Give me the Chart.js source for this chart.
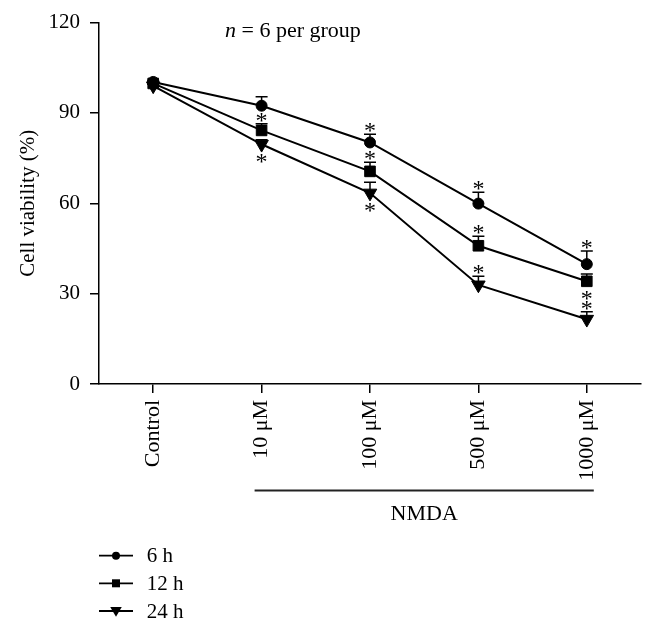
<!DOCTYPE html>
<html><head><meta charset="utf-8">
<script src="https://cdn.jsdelivr.net/npm/chart.js@4.4.1/dist/chart.umd.min.js"></script>
<style>html,body{margin:0;padding:0;background:#fff;}#wrap{width:654px;height:633px;}</style>
</head><body><div id="wrap"><canvas id="c" width="654" height="633"></canvas></div>
<script>
// ---- data ----
const categories = ['Control', '10 μM', '100 μM', '500 μM', '1000 μM'];
const groupLabel = 'NMDA';
const seriesNames = ['6 h', '12 h', '24 h'];
const v6  = [100.3, 92.4, 80.2, 59.9, 39.8];
const v12 = [99.8, 84.2, 70.6, 45.9, 34.1];
const v24 = [99.0, 79.6, 63.4, 32.9, 21.5];
const e6  = [0.5, 3.0, 2.7, 3.8, 4.4];
const e12 = [0.5, 2.2, 3.0, 3.2, 2.4];
const e24 = [0.5, 1.5, 3.6, 2.9, 2.5];
const sig6  = [false, false, true, true, true];
const sig12 = [false, true, true, true, true];
const sig24 = [false, true, true, true, true];
const yTicks = [0, 30, 60, 90, 120];
const titleText = ['n', ' = 6 per group'];
const yTitle = 'Cell viability (%)';

const F = "'Liberation Serif', 'DejaVu Serif', serif";
Chart.defaults.font.family = F;
Chart.defaults.color = '#000';

function marker(ctx, style, x, y, r) {
  ctx.beginPath();
  if (style === 'circle') {
    ctx.arc(x, y, r, 0, Math.PI * 2);
  } else if (style === 'rect') {
    ctx.rect(x - r, y - r, 2 * r, 2 * r);
  } else {
    ctx.moveTo(x - r * 1.05, y - r * 0.75);
    ctx.lineTo(x + r * 1.05, y - r * 0.75);
    ctx.lineTo(x, y + r * 1.05);
    ctx.closePath();
  }
  ctx.fill();
}

const extras = {
  id: 'extras',
  afterDatasetsDraw(chart) {
    const {ctx, scales: {x, y}} = chart;
    ctx.save();
    ctx.strokeStyle = '#000'; ctx.fillStyle = '#000'; ctx.lineWidth = 1.5;
    chart.data.datasets.forEach(ds => {
      ds.data.forEach((v, j) => {
        const px = x.getPixelForValue(j);
        const py = y.getPixelForValue(v);
        const pe = y.getPixelForValue(v + ds.errors[j]);
        ctx.beginPath();
        ctx.moveTo(px, py); ctx.lineTo(px, pe);
        ctx.moveTo(px - 6, pe); ctx.lineTo(px + 6, pe);
        ctx.stroke();
        if (ds.sig[j]) {
          ctx.font = '24px ' + F;
          ctx.textAlign = 'center';
          ctx.textBaseline = 'alphabetic';
          const cy = ds.starSide[j] === 'down' ? py + 14 : pe - 7;
          ctx.fillText('*', px, cy + 11);
        }
      });
    });
    ctx.restore();
  },
  afterDraw(chart) {
    const {ctx, scales: {x}} = chart;
    ctx.save();
    ctx.fillStyle = '#000'; ctx.strokeStyle = '#222';
    // title
    ctx.textBaseline = 'alphabetic'; ctx.textAlign = 'left';
    ctx.font = 'italic 22px ' + F;
    ctx.fillText(titleText[0], 225, 37);
    const w = ctx.measureText(titleText[0]).width;
    ctx.font = '22px ' + F;
    ctx.fillText(titleText[1], 225 + w, 37);
    // NMDA bracket
    const x1 = x.getPixelForValue(1) - 7, x2 = x.getPixelForValue(4) + 7;
    ctx.lineWidth = 1.8;
    ctx.beginPath(); ctx.moveTo(x1, 490.5); ctx.lineTo(x2, 490.5); ctx.stroke();
    ctx.font = '22px ' + F; ctx.textAlign = 'center';
    ctx.fillText(groupLabel, (x1 + x2) / 2, 520);
    // legend
    const rows = [555.7, 583.3, 611];
    ctx.textAlign = 'left'; ctx.textBaseline = 'middle';
    ctx.font = '21px ' + F;
    chart.data.datasets.forEach((ds, i) => {
      const yy = rows[i];
      ctx.strokeStyle = '#000'; ctx.lineWidth = 1.8;
      ctx.beginPath(); ctx.moveTo(99, yy); ctx.lineTo(133, yy); ctx.stroke();
      marker(ctx, ds.legendStyle, 116, yy, ds.legendStyle === 'circle' ? 4 : (ds.legendStyle === 'rect' ? 4 : 5.5));
      ctx.fillText(ds.label, 146.7, yy + 1);
    });
    ctx.restore();
  }
};

const common = {borderColor: '#000', backgroundColor: '#000', borderWidth: 2, pointBorderWidth: 1, pointBorderColor: '#000', pointBackgroundColor: '#000', tension: 0, fill: false};

new Chart(document.getElementById('c'), {
  type: 'line',
  data: {
    labels: categories,
    datasets: [
      Object.assign({label: seriesNames[0], data: v6, errors: e6, sig: sig6, starSide: ['up','up','up','up','up'], pointStyle: 'circle', pointRadius: 5.5, legendStyle: 'circle'}, common),
      Object.assign({label: seriesNames[1], data: v12, errors: e12, sig: sig12, starSide: ['up','up','up','up','down'], pointStyle: 'rect', pointRadius: 7.5, legendStyle: 'rect'}, common),
      Object.assign({label: seriesNames[2], data: v24, errors: e24, sig: sig24, starSide: ['down','down','down','up','up'], pointStyle: 'triangle', pointRadius: 7.8, pointRotation: 180, legendStyle: 'triangle'}, common)
    ]
  },
  options: {
    responsive: false, animation: false, events: [],
    layout: {padding: {left: 0, top: 19, right: 13, bottom: 0}},
    plugins: {legend: {display: false}, tooltip: {enabled: false}},
    scales: {
      x: {
        type: 'category', offset: true,
        afterFit(s) { s.height = 249; },
        grid: {display: true, drawOnChartArea: false, drawTicks: true, tickLength: 9, color: '#000', lineWidth: 1.5},
        border: {display: true, color: '#000', width: 1.5},
        ticks: {font: {size: 22}, color: '#000', maxRotation: 90, minRotation: 90, padding: 7, autoSkip: false}
      },
      y: {
        min: 0, max: 120,
        afterFit(s) { s.width = 99; },
        afterBuildTicks(s) { s.ticks = yTicks.map(v => ({value: v})); },
        grid: {display: true, drawOnChartArea: false, drawTicks: true, tickLength: 9, color: '#000', lineWidth: 1.5},
        border: {display: true, color: '#000', width: 1.5},
        ticks: {font: {size: 21}, color: '#000', padding: 10},
        title: {display: true, text: yTitle, font: {size: 21}, color: '#000', padding: {top: 16, bottom: 0}}
      }
    }
  },
  plugins: [extras]
});
</script>
</body></html>
